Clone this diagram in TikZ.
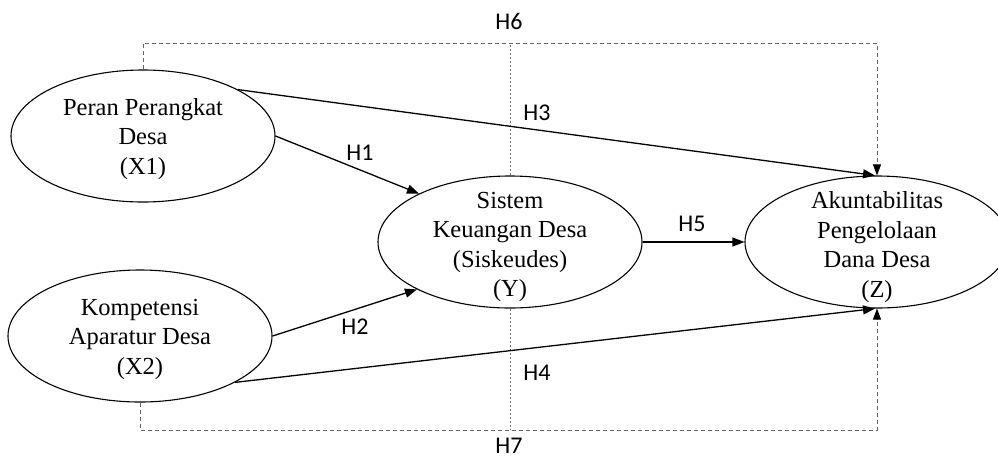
\documentclass[tikz,border=0pt]{standalone}
\usepackage{fontspec}
\setmainfont{Liberation Serif}
\newfontfamily\labfont{Carlito}
\usetikzlibrary{arrows.meta,shapes.geometric}
\begin{document}
\begin{tikzpicture}[x=1pt,y=-1pt,
  ell/.style={draw,ellipse,line width=1.1pt,minimum width=264pt,minimum height=132pt,inner sep=0pt},
  txt/.style={align=center,font=\fontsize{24.5}{29.5}\selectfont,inner sep=0pt},
  hlab/.style={font=\labfont\fontsize{24}{26}\selectfont,inner sep=0pt},
  arr/.style={line width=1.3pt,-{Triangle[length=12pt,width=9pt]}},
  dashbox/.style={draw=black!60,line width=0.9pt,dash pattern=on 4pt off 3pt,-{Triangle[length=11pt,width=8pt,color=black]}},
  dotline/.style={draw=black!55,line width=0.9pt,dash pattern=on 2pt off 2pt}]
\useasboundingbox (0,0) rectangle (998,459);
\node[ell] (X1) at (143,136) {};
\node[txt] (X1t) at ([yshift=-3pt]X1.center) {Peran Perangkat\\Desa\\(X1)};
\node[ell] (X2) at (140,336) {};
\node[txt] (X2t) at ([yshift=-3pt]X2.center) {Kompetensi\\Aparatur Desa\\(X2)};
\node[ell] (Y) at (510,242) {};
\node[txt] (Yt) at ([yshift=-5pt]Y.center) {Sistem\\Keuangan Desa\\(Siskeudes)\\(Y)};
\node[ell] (Z) at (877,242) {};
\node[txt] (Zt) at ([yshift=-5pt]Z.center) {Akuntabilitas\\Pengelolaan\\Dana Desa\\(Z)};
\coordinate (top) at (143,43);
\coordinate (bot) at (140,430);
% dotted vertical through Y
\draw[dotline] (Y.north) -- (Y.north |- top);
\draw[dotline] (Y.south) -- (Y.south |- bot);
% dashed indirect paths
\draw[dashbox] (X1.north) -- (top) -| (Z.north);
\draw[dashbox] (X2.south) -- (bot) -| (Z.south);
% direct paths
\draw[arr] (X1.east) -- (Y.152);
\draw[arr] (X2.east) -- (Y.207);
\draw[arr] (X1.26) -- ([xshift=-2pt]Z.north);
\draw[arr] (X2.-26) -- ([xshift=-2pt]Z.south);
\draw[arr] (Y.east) -- (Z.west);
% labels
\node[hlab] (H1) at (360,153) {H1};
\node[hlab] (H2) at (355,327) {H2};
\node[hlab] (H3) at (537,113) {H3};
\node[hlab] (H4) at (537,373) {H4};
\node[hlab] (H5) at (692,224) {H5};
\node[hlab] (H6) at (509,21) {H6};
\node[hlab] (H7) at (509,446) {H7};
\end{tikzpicture}
\end{document}
